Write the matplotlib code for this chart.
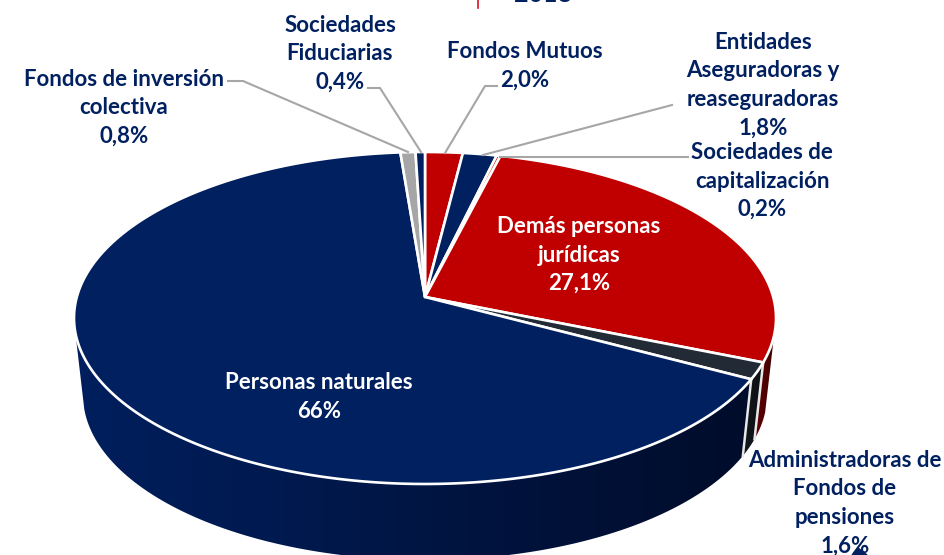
import matplotlib
matplotlib.use('Agg')
import matplotlib.pyplot as plt
import numpy as np
from matplotlib.colors import LinearSegmentedColormap
from matplotlib.patches import Polygon

# shares clockwise from the top
nombres = ['Fondos Mutuos', 'Entidades', 'Soc. capitalizacion', 'Demas personas',
           'Administradoras', 'Personas naturales', 'Fondos inversion', 'Soc. fiduciarias']
shares = [2.0, 1.8, 0.2, 27.1, 1.6, 66.0, 0.8, 0.4]
colores = ['#C00000', '#002060', '#C00000', '#C00000', '#222B35', '#002060', '#A6A6A6', '#002060']
lados = [('#5c0000', '#5c0000'), ('#001030', '#001030'), ('#5c0000', '#5c0000'), ('#640006', '#3a0000'),
         ('#12171c', '#0c1014'), ('#001f5e', '#000c2a'), ('#666666', '#666666'), ('#001030', '#001030')]

etiquetas_azul = ['Sociedades\nFiduciarias\n0,4%', 'Fondos Mutuos\n2,0%',
                  'Entidades\nAseguradoras y\nreaseguradoras\n1,8%',
                  'Sociedades de\ncapitalización\n0,2%',
                  'Fondos de inversión\ncolectiva\n0,8%',
                  'Administradoras de\nFondos de\npensiones\n1,6%']
pos_azul = [(340, 54), (525, 66), (763, 85), (762, 181), (124, 108), (845, 503)]
etiquetas_blanco = ['Demás personas\njurídicas\n27,1%', 'Personas naturales\n66%']
pos_blanco = [(579, 255), (319, 397)]

guias = [([228, 243, 408], [81, 81, 152]),
         ([368, 380, 421], [88, 88, 152]),
         ([497, 485, 445], [86, 86, 153]),
         ([672, 483], [105, 155]),
         ([688, 500], [157, 157])]

apex = (425, 297)
top = (425, 318, 351, 166)
bottom = (425, 395, 342, 165)
k = 0.48


def rim_t(theta):
    # cut the ray from the apex with the top ellipse, gives ellipse parameter
    dx, dy = np.sin(theta), -k * np.cos(theta)
    ox = apex[0] - top[0]
    oy = apex[1] - top[1]
    a = (dx / top[2])**2 + (dy / top[3])**2
    b = 2 * (ox * dx / top[2]**2 + oy * dy / top[3]**2)
    c = (ox / top[2])**2 + (oy / top[3])**2 - 1
    s = (-b + np.sqrt(b**2 - 4 * a * c)) / (2 * a)
    x, y = ox + s * dx, oy + s * dy
    return np.arctan2(x / top[2], -y / top[3]) % (2 * np.pi)


def elipse(e, t):
    return e[0] + e[2] * np.sin(t), e[1] - e[3] * np.cos(t)


fig = plt.figure(figsize=(9.45, 5.55), dpi=100)
ax = fig.add_axes([0, 0, 1, 1])
ax.set_xlim(0, 945)
ax.set_ylim(555, 0)
ax.axis('off')

plt.rcParams['font.family'] = ['Lato', 'DejaVu Sans']

bordes = np.cumsum([0] + shares) / 100 * 2 * np.pi
ts = [rim_t(b) for b in bordes[:-1]] + [2 * np.pi + rim_t(0)]

# side wall first
t_ini, t_fin = np.radians(96), np.radians(265)
for i in range(len(shares)):
    t0, t1 = max(ts[i], t_ini), min(ts[i + 1], t_fin)
    if t1 <= t0:
        continue
    t = np.linspace(t0, t1, 120)
    xs, ys = elipse(top, t)
    xb, yb = elipse(bottom, t)
    poly = Polygon(np.column_stack([np.r_[xs, xb[::-1]], np.r_[ys, yb[::-1]]]),
                   closed=True, fc='none', ec='none', transform=ax.transData)
    ax.add_patch(poly)
    cm = LinearSegmentedColormap.from_list('l', [lados[i][1], lados[i][0]])
    grad = np.linspace(0, 1, 256).reshape(1, -1)[:, ::-1]
    im = ax.imshow(grad, extent=[min(xs.min(), xb.min()), max(xs.max(), xb.max()), 560, 300],
                   cmap=cm, aspect='auto', zorder=1)
    im.set_clip_path(poly)
    if i < len(shares) - 1 and t1 < t_fin:
        ax.plot([xs[-1], xb[-1]], [ys[-1], yb[-1]], color='#e8e8e8', lw=1.8, zorder=2)
ax.set_xlim(0, 945)
ax.set_ylim(555, 0)

# top face
for i in range(len(shares)):
    t = np.linspace(ts[i], ts[i + 1], 200)
    x, y = elipse(top, t)
    ax.fill(np.r_[apex[0], x], np.r_[apex[1], y], color=colores[i], ec='white', lw=1.9,
            joinstyle='round', zorder=3)

for gx, gy in guias:
    ax.plot(gx, gy, color='#A6A6A6', lw=1.5, zorder=4)

for txt, (x, y) in zip(etiquetas_azul, pos_azul):
    ax.text(x, y, txt, color='#002060', fontsize=16, fontweight='bold', ha='center', va='center',
            linespacing=1.45, zorder=5)
for txt, (x, y) in zip(etiquetas_blanco, pos_blanco):
    ax.text(x, y, txt, color='white', fontsize=16, fontweight='bold', ha='center', va='center',
            linespacing=1.45, zorder=5)

# pieces cut off at the top of the slide
ax.plot([478, 478], [0, 8], color='#e01020', lw=1.2, zorder=5)
ax.text(543, -5, '2018', color='#002060', fontsize=18, fontweight='bold', ha='center', va='center', zorder=5)
ax.fill([852, 858, 867], [555, 548, 555], color='#002060', zorder=6)

plt.savefig('out.png', dpi=100)
